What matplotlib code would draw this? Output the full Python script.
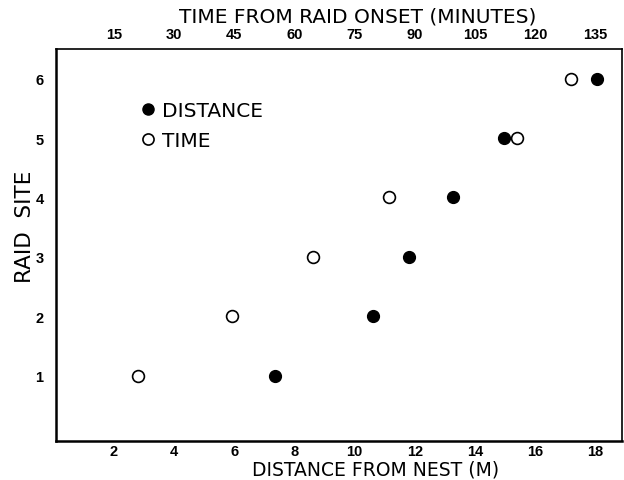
import numpy as np
import matplotlib.pyplot as plt
from matplotlib.lines import Line2D

# -----------------------------
# Data
# -----------------------------
raid_site = [1, 2, 3, 4, 5, 6]
distance_m = [7.35, 10.6, 11.8, 13.25, 14.95, 18.05]        # filled circles
time_min = [21.0, 44.5, 64.5, 83.5, 115.5, 129.0]           # open circles
dist_ticks = [2, 4, 6, 8, 10, 12, 14, 16, 18]
time_ticks = [15, 30, 45, 60, 75, 90, 105, 120, 135]
MIN_PER_M = 7.5  # top axis: 15 min lines up with 2 m

W, H = 624, 481
fig = plt.figure(figsize=(W / 100, H / 100), dpi=100)
left, right, top, bottom = 56, 622, 50, 442
ax = fig.add_axes([left / W, 1 - bottom / H, (right - left) / W, (bottom - top) / H])

def ax_xy(px, py):
    # figure pixel -> axes fraction
    return (px - left) / (right - left), (bottom - py) / (bottom - top)

label_font = dict(family="DejaVu Sans", fontsize=14.5)
tick_font = dict(family="Liberation Sans", fontsize=10.5, fontweight="bold")

# points (time plotted on the distance scale)
ax.plot(distance_m, raid_site, "o", ms=8.5, mfc="black", mec="black", ls="none")
ax.plot(np.array(time_min) / MIN_PER_M, raid_site, "o", ms=8.5, mfc="white",
        mec="black", mew=1.2, ls="none")

ax.set_xlim(0.08, 18.88)
ax.set_ylim(-0.1, 6.5)

ax.set_xticks(dist_ticks)
ax.set_xticklabels([str(t) for t in dist_ticks], **tick_font)
ax.set_yticks(raid_site)
ax.set_yticklabels([str(t) for t in raid_site], **tick_font)
ax.tick_params(axis="both", length=0)
ax.tick_params(axis="x", pad=2)
ax.tick_params(axis="y", pad=9)

for side in ["left", "bottom"]:
    ax.spines[side].set_linewidth(1.8)
for side in ["top", "right"]:
    ax.spines[side].set_linewidth(1.2)

# top axis in minutes
sec = ax.secondary_xaxis("top", functions=(lambda d: d * MIN_PER_M, lambda t: t / MIN_PER_M))
sec.set_xticks(time_ticks)
sec.set_xticklabels([str(t) for t in time_ticks], **tick_font)
sec.tick_params(length=0, pad=6)
sec.spines["top"].set_visible(False)
sec.set_xlabel("TIME FROM RAID ONSET (MINUTES)", va="center", **label_font)
sec.xaxis.set_label_coords(*ax_xy(358, 17), transform=ax.transAxes)

ax.set_xlabel("DISTANCE FROM NEST (M)", family="DejaVu Sans", fontsize=13.5)
ax.xaxis.label.set_va("center")
ax.xaxis.set_label_coords(*ax_xy(376, 470), transform=ax.transAxes)
ax.set_ylabel("RAID  SITE", va="center", ha="center", family="DejaVu Sans", fontsize=15.5)
ax.yaxis.set_label_coords(*ax_xy(25, 227), transform=ax.transAxes)

handles = [
    Line2D([], [], marker="o", ls="none", ms=8, mfc="black", mec="black"),
    Line2D([], [], marker="o", ls="none", ms=8, mfc="white", mec="black", mew=1.2),
]
leg = ax.legend(handles, ["DISTANCE", "TIME"], loc="upper left",
                bbox_to_anchor=ax_xy(136, 102),
                frameon=False, handletextpad=0.1, handlelength=1.2, borderpad=0,
                borderaxespad=0, labelspacing=0.55, prop=dict(family="DejaVu Sans", size=14.5))

fig.savefig("out.png", dpi=100)
